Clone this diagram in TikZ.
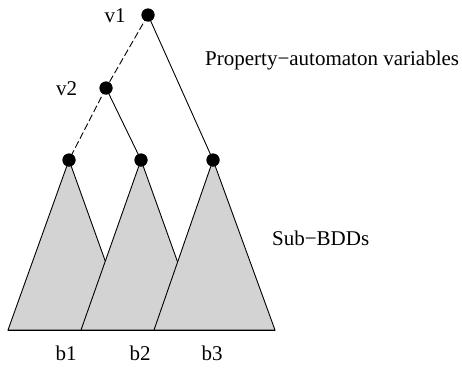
\documentclass[tikz,border=0pt]{standalone}
\usepackage{fontspec}
\setmainfont{Liberation Serif}
\begin{document}
\begin{tikzpicture}[x=1pt,y=-1pt,
  dot/.style={circle,fill=black,inner sep=0pt,minimum size=13pt},
  lbl/.style={inner sep=0pt,font=\fontsize{21}{25}\selectfont},
  tri/.style={draw=black,fill={rgb,255:red,211;green,211;blue,211},line width=0.9pt,line join=round},
  edge/.style={draw=black,line width=0.9pt},
  dedge/.style={edge,dash pattern=on 7pt off 3pt}]
\useasboundingbox (0,0) rectangle (462,370);
% triangles
\path[tri] (69,160) -- (8,330) -- (130,330) -- cycle;
\path[tri] (141,160) -- (81,330) -- (202,330) -- cycle;
\path[tri] (213,160) -- (154,330) -- (275,330) -- cycle;
\draw[edge,line cap=round] (8,330) -- (275,330);
% nodes
\node[dot] (v1) at (148,15) {};
\node[dot] (v2) at (106,88) {};
\node[dot] (n1) at (69,160) {};
\node[dot] (n2) at (141,160) {};
\node[dot] (n3) at (213,160) {};
% edges
\draw[dedge] (v1.center) -- (v2.center);
\draw[dedge] (v2.center) -- (n1.center);
\draw[edge] (v2.center) -- (n2.center);
\draw[edge] (v1.center) -- (n3.center);
\node[dot] at (v1) {};
\node[dot] at (v2) {};
\node[dot] at (n1) {};
\node[dot] at (n2) {};
\node[dot] at (n3) {};
% labels
\node[lbl,anchor=base] (l1) at (115,22) {v1};
\node[lbl,anchor=base] (l2) at (66.5,95) {v2};
\node[lbl,anchor=base west] (pav) at (205,65) {Property−automaton variables};
\node[lbl,anchor=base west] (sb) at (272,245) {Sub−BDDs};
\node[lbl,anchor=base] (b1) at (66,360) {b1};
\node[lbl,anchor=base] (b2) at (140,360) {b2};
\node[lbl,anchor=base] (b3) at (212,360) {b3};
\end{tikzpicture}
\end{document}
